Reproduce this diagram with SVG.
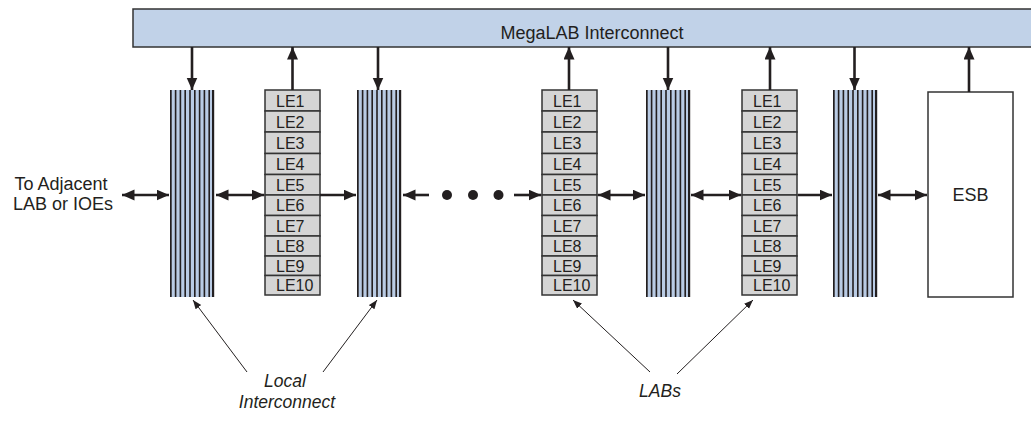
<svg xmlns="http://www.w3.org/2000/svg" xmlns:xlink="http://www.w3.org/1999/xlink" width="1031" height="429" viewBox="0 0 1031 429">
<style>
  text { font-family: "Liberation Sans", Arial, sans-serif; fill: #231f20; }
  .big { font-size: 18px; }
  .le { font-size: 16px; }
  .it { font-size: 17.5px; font-style: italic; }
  .lebox { fill: #d5d5d5; stroke: #333; stroke-width: 1.5; }
  .thick { stroke: #231f20; stroke-width: 2.6; fill: none; }
  .thin { stroke: #231f20; stroke-width: 1; fill: none; }
</style>
<defs>
  <marker id="ah" markerUnits="userSpaceOnUse" markerWidth="13" markerHeight="12" refX="12.5" refY="5.5" orient="auto-start-reverse">
    <path d="M0,0 L12.5,5.5 L0,11 Z" fill="#231f20"/>
  </marker>
  <marker id="sah" markerUnits="userSpaceOnUse" markerWidth="9" markerHeight="8" refX="9" refY="3.5" orient="auto">
    <path d="M0,0 L9,3.5 L0,7 Z" fill="#231f20"/>
  </marker>
  <g id="stripes">
    <rect x="0" y="0" width="44" height="207" fill="#b9cbe4"/>
    <g fill="#231f20">
      <rect x="0" y="0" width="1.7" height="207"/>
      <rect x="4.8" y="0" width="1.6" height="207"/>
      <rect x="9.6" y="0" width="1.6" height="207"/>
      <rect x="14.4" y="0" width="1.6" height="207"/>
      <rect x="19.2" y="0" width="1.6" height="207"/>
      <rect x="24" y="0" width="1.6" height="207"/>
      <rect x="28.8" y="0" width="1.6" height="207"/>
      <rect x="33.6" y="0" width="1.6" height="207"/>
      <rect x="38.4" y="0" width="1.6" height="207"/>
      <rect x="42" y="0" width="2.2" height="207"/>
    </g>
  </g>
  <g id="lecol">
    <rect class="lebox" x="0" y="0" width="55" height="21"/>
    <rect class="lebox" x="0" y="21" width="55" height="21"/>
    <rect class="lebox" x="0" y="42" width="55" height="21.5"/>
    <rect class="lebox" x="0" y="63.5" width="55" height="21"/>
    <rect class="lebox" x="0" y="84.5" width="55" height="20.5"/>
    <rect class="lebox" x="0" y="105" width="55" height="20.5"/>
    <rect class="lebox" x="0" y="125.5" width="55" height="20.5"/>
    <rect class="lebox" x="0" y="146" width="55" height="20"/>
    <rect class="lebox" x="0" y="166" width="55" height="19.5"/>
    <rect class="lebox" x="0" y="185.5" width="55" height="19.5"/>
    <text class="le" x="11" y="16.5">LE1</text>
    <text class="le" x="11" y="37.5">LE2</text>
    <text class="le" x="11" y="58.5">LE3</text>
    <text class="le" x="11" y="80">LE4</text>
    <text class="le" x="11" y="100.5">LE5</text>
    <text class="le" x="11" y="121">LE6</text>
    <text class="le" x="11" y="141.5">LE7</text>
    <text class="le" x="11" y="162">LE8</text>
    <text class="le" x="11" y="181.5">LE9</text>
    <text class="le" x="11" y="201">LE10</text>
  </g>
</defs>

<g id="megalab">
  <rect x="133" y="9" width="910" height="38" fill="#c1d2e8" stroke="#333" stroke-width="1.5"/>
  <text class="big" x="592" y="39" text-anchor="middle">MegaLAB Interconnect</text>
</g>

<g id="local1"><use xlink:href="#stripes" x="170" y="90"/></g>
<g id="lab1"><use xlink:href="#lecol" x="265" y="90"/></g>
<g id="local2"><use xlink:href="#stripes" x="357" y="90"/></g>
<g id="lab2"><use xlink:href="#lecol" x="542" y="90"/></g>
<g id="local3"><use xlink:href="#stripes" x="646" y="90"/></g>
<g id="lab3"><use xlink:href="#lecol" x="742" y="90"/></g>
<g id="local4"><use xlink:href="#stripes" x="833" y="90"/></g>
<g id="esb">
  <rect x="928" y="92" width="85" height="205" fill="#fff" stroke="#333" stroke-width="1.5"/>
  <text class="big" x="970.5" y="201" text-anchor="middle">ESB</text>
</g>

<g id="labels">
  <text class="big" x="61" y="190" text-anchor="middle">To Adjacent</text>
  <text class="big" x="63" y="210" text-anchor="middle">LAB or IOEs</text>
  <text class="it" x="285" y="387" text-anchor="middle">Local</text>
  <text class="it" x="287" y="408" text-anchor="middle">Interconnect</text>
  <text class="it" x="660" y="397" text-anchor="middle">LABs</text>
</g>

<g id="connectors">
  <line class="thick" x1="192" y1="47" x2="192" y2="90" marker-end="url(#ah)"/>
  <line class="thick" x1="292.5" y1="90" x2="292.5" y2="47" marker-end="url(#ah)"/>
  <line class="thick" x1="378" y1="47" x2="378" y2="90" marker-end="url(#ah)"/>
  <line class="thick" x1="569" y1="90" x2="569" y2="47" marker-end="url(#ah)"/>
  <line class="thick" x1="668" y1="47" x2="668" y2="90" marker-end="url(#ah)"/>
  <line class="thick" x1="770" y1="90" x2="770" y2="47" marker-end="url(#ah)"/>
  <line class="thick" x1="854.5" y1="47" x2="854.5" y2="90" marker-end="url(#ah)"/>
  <line class="thick" x1="969" y1="92" x2="969" y2="47" marker-end="url(#ah)"/>
  <line class="thick" x1="122" y1="195" x2="169" y2="195" marker-start="url(#ah)" marker-end="url(#ah)"/>
  <line class="thick" x1="216" y1="195" x2="264" y2="195" marker-start="url(#ah)" marker-end="url(#ah)"/>
  <line class="thick" x1="320" y1="195" x2="356" y2="195" marker-end="url(#ah)"/>
  <line class="thick" x1="429" y1="195" x2="403" y2="195" marker-end="url(#ah)"/>
  <circle cx="447" cy="195" r="5" fill="#231f20"/>
  <circle cx="473" cy="195" r="5" fill="#231f20"/>
  <circle cx="498.5" cy="195" r="5" fill="#231f20"/>
  <line class="thick" x1="514" y1="195" x2="541" y2="195" marker-end="url(#ah)"/>
  <line class="thick" x1="598" y1="195" x2="645" y2="195" marker-start="url(#ah)" marker-end="url(#ah)"/>
  <line class="thick" x1="691" y1="195" x2="741" y2="195" marker-start="url(#ah)" marker-end="url(#ah)"/>
  <line class="thick" x1="798" y1="195" x2="832" y2="195" marker-end="url(#ah)"/>
  <line class="thick" x1="878" y1="195" x2="927" y2="195" marker-start="url(#ah)" marker-end="url(#ah)"/>
  <line class="thin" x1="247" y1="372" x2="193" y2="300" marker-end="url(#sah)"/>
  <line class="thin" x1="323" y1="372" x2="377" y2="300" marker-end="url(#sah)"/>
  <line class="thin" x1="650" y1="372" x2="573" y2="300" marker-end="url(#sah)"/>
  <line class="thin" x1="677" y1="374" x2="753" y2="300" marker-end="url(#sah)"/>
</g>
</svg>
